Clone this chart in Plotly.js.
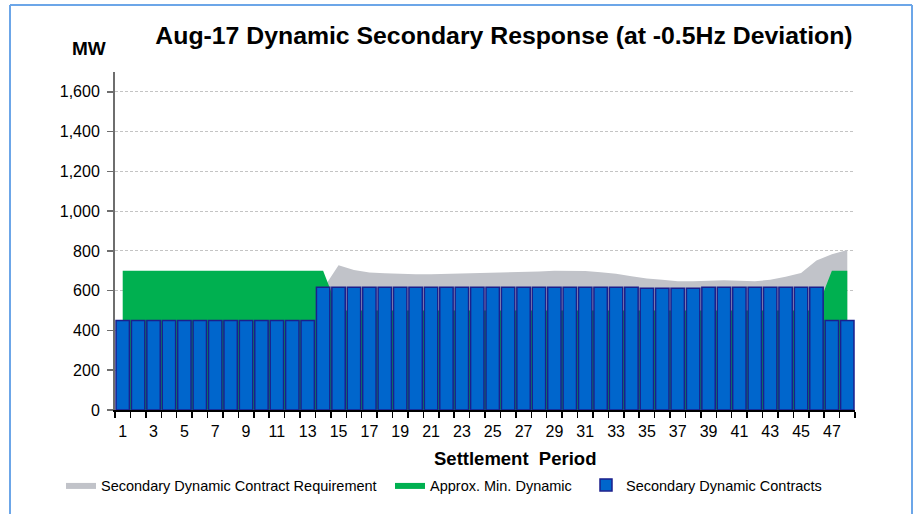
<!DOCTYPE html>
<html>
<head>
<meta charset="utf-8">
<script src="https://cdn.plot.ly/plotly-3.0.1.min.js"></script>
<style>
html,body{margin:0;padding:0;background:#fff;}
#chart{width:917px;height:514px;}
</style>
</head>
<body>
<div id="chart"></div>
<script>
// Settlement periods 1..48
const periods = [1,2,3,4,5,6,7,8,9,10,11,12,13,14,15,16,17,18,19,20,21,22,23,24,25,26,27,28,29,30,31,32,33,34,35,36,37,38,39,40,41,42,43,44,45,46,47,48];
const periodTickVals = [1,3,5,7,9,11,13,15,17,19,21,23,25,27,29,31,33,35,37,39,41,43,45,47];
const periodTickText = ["1","3","5","7","9","11","13","15","17","19","21","23","25","27","29","31","33","35","37","39","41","43","45","47"];

// Secondary Dynamic Contract Requirement (MW)
const requirement = [450,450,450,450,450,450,450,450,450,450,450,450,450,610,
  728,704,692,688,684,683,683,685,687,688,688,690,694,697,700,700,699,693,685,673,
  662,655,647,647,649,653,650,647,655,670,689,752,783,805];
// Approx. Min. Dynamic (MW)
const minDynamic = [700,700,700,700,700,700,700,700,700,700,700,700,700,700,
  500,500,500,500,500,500,500,500,500,500,500,500,500,500,500,500,500,500,500,500,
  500,500,500,500,500,500,500,500,500,500,500,500,700,700];
// Secondary Dynamic Contracts (MW)
const contracts = [450,450,450,450,450,450,450,450,450,450,450,450,450,618,
  618,618,618,618,618,618,618,618,618,618,618,618,618,618,618,618,618,618,618,618,
  612,612,612,612,618,618,618,618,618,618,618,618,450,450];

const seriesNames = ["Secondary Dynamic Contract Requirement","Approx. Min. Dynamic","Secondary Dynamic Contracts"];

// boundaries between categories for tick marks
const boundaries = [0.5].concat(periods.map(p => p + 0.5));

const W = 917, H = 514;
const M = {l:115, r:62, t:72, b:104};
const pw = W - M.l - M.r, ph = H - M.t - M.b;
const px2x = p => (p - M.l) / pw;
const py2y = p => (H - M.b - p) / ph;
const FONT = 'Liberation Sans, Arial, sans-serif';

const traces = [
  {type:'scatter', mode:'lines', x:periods, y:requirement, name:seriesNames[0],
   fill:'tozeroy', fillcolor:'#C1C3C9', line:{width:0, color:'#C1C3C9'}, legend:'legend', hoverinfo:'y'},
  {type:'scatter', mode:'lines', x:periods, y:minDynamic, name:seriesNames[1],
   fill:'tozeroy', fillcolor:'#00B050', line:{width:0, color:'#00B050'}, legend:'legend2', hoverinfo:'y'},
  {type:'bar', x:periods, y:contracts, name:seriesNames[2], xaxis:'x2', yaxis:'y',
   marker:{color:'#0066CC', line:{color:'#1B1F8C', width:1.5}}, legend:'legend3', hoverinfo:'y'}
];

const legFont = {family:FONT, size:14.5, color:'#000'};
const legBase = {orientation:'h', yanchor:'middle', xanchor:'left', font:legFont, bgcolor:'rgba(0,0,0,0)', itemwidth:30, tracegroupgap:0};

const layout = {
  width:W, height:H,
  margin:M,
  paper_bgcolor:'#fff', plot_bgcolor:'#fff',
  font:{family:FONT, size:15, color:'#000'},
  title:{text:'<b>Aug-17 Dynamic Secondary Response (at -0.5Hz Deviation)</b>',
    font:{family:FONT, size:24.8, color:'#000'},
    xref:'paper', x:px2x(504), xanchor:'center', yref:'container', y:1 - 35/H, yanchor:'middle'},
  barmode:'overlay',
  bargap:0.13,
  showlegend:true,
  xaxis:{range:[0.5,48.5], tickmode:'array', tickvals:periodTickVals, ticktext:periodTickText,
    ticks:'', showgrid:false, zeroline:false, showline:true, linecolor:'#000', linewidth:1.5,
    tickfont:{size:16}, ticklabelstandoff:6, fixedrange:true,
    minor:{tickmode:'array', tickvals:boundaries, ticks:'outside', ticklen:6, tickcolor:'#000', tickwidth:1.5, showgrid:false}},
  xaxis2:{range:[0.5,48.5], overlaying:'x', visible:false, fixedrange:true},
  yaxis:{range:[0,1700], tickmode:'linear', tick0:0, dtick:200, tickformat:',d',
    showgrid:true, gridcolor:'#C4C4C4', griddash:'3px,2px', gridwidth:1,
    zeroline:false, showline:true, linecolor:'#6E6E6E', linewidth:2,
    ticks:'outside', ticklen:6, tickcolor:'#6E6E6E', tickwidth:1.5,
    tickfont:{size:16}, ticklabelstandoff:4, fixedrange:true},
  legend: Object.assign({}, legBase, {x:px2x(61), y:py2y(485)}),
  legend2: Object.assign({}, legBase, {x:px2x(390), y:py2y(485)}),
  legend3: Object.assign({}, legBase, {x:px2x(586), y:py2y(485)}),
  annotations:[
    {text:'<b>MW</b>', xref:'paper', yref:'paper', x:px2x(89), y:py2y(48), showarrow:false,
     xanchor:'center', yanchor:'middle', font:{family:FONT, size:19, color:'#000'}},
    {text:'<b>Settlement  Period</b>', xref:'paper', yref:'paper', x:px2x(515), y:py2y(458), showarrow:false,
     xanchor:'center', yanchor:'middle', font:{family:FONT, size:18.5, color:'#000'}}
  ],
  shapes:[
    {type:'line', xref:'paper', yref:'paper', x0:px2x(10), x1:px2x(10), y0:py2y(5), y1:py2y(520), line:{color:'#6CA6E8', width:2}},
    {type:'line', xref:'paper', yref:'paper', x0:px2x(912), x1:px2x(912), y0:py2y(5), y1:py2y(520), line:{color:'#6CA6E8', width:2}},
    {type:'line', xref:'paper', yref:'paper', x0:px2x(10), x1:px2x(912), y0:py2y(5), y1:py2y(5), line:{color:'#6CA6E8', width:2}}
  ]
};

Plotly.newPlot('chart', traces, layout, {displayModeBar:false, staticPlot:true});
</script>
</body>
</html>
